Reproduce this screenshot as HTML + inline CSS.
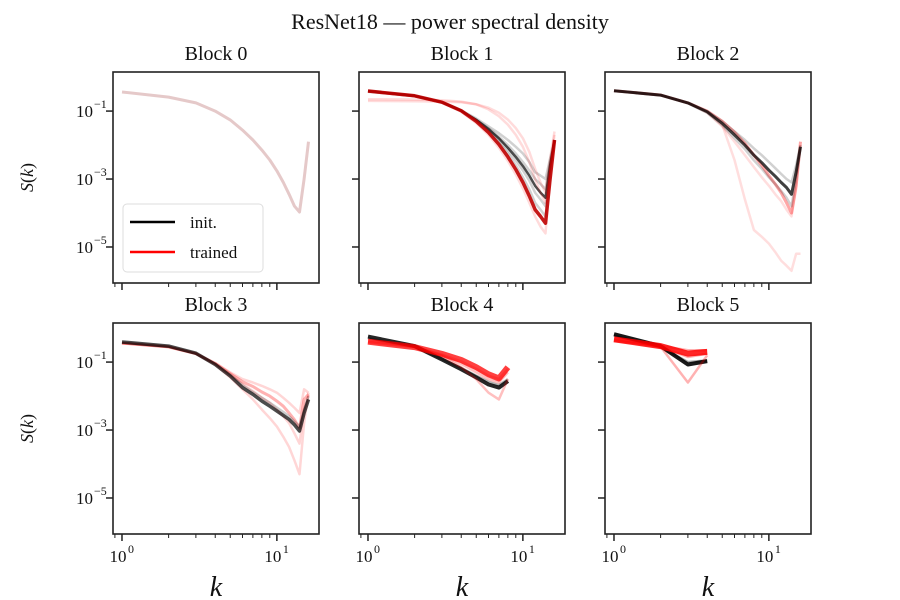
<!DOCTYPE html>
<html><head><meta charset="utf-8"><style>
body{margin:0;background:#fff}
svg{display:block;font-family:"Liberation Serif","DejaVu Serif",serif}
</style></head><body>
<svg id="fig" width="900" height="600" viewBox="0 0 900 600">
<rect width="900" height="600" fill="#fff"/>
<text x="450" y="29" text-anchor="middle" font-size="22" fill="#111">ResNet18 — power spectral density</text>
<g id="panels"></g>
</svg>
<script>
// k values
const k16 = [1,2,3,4,5,6,7,8,9,10,11,12,13,14,15,16];
const k8 = [1,2,3,4,5,6,7,8];
const k4 = [1,2,3,4];
const blockTitles = ["Block 0","Block 1","Block 2","Block 3","Block 4","Block 5"];
const yTickExps = [-1,-3,-5];
const xTickExps = [0,1];
// log10 S(k) series per block
const b0Init = [[-0.44,-0.59,-0.76,-1.0,-1.26,-1.56,-1.85,-2.15,-2.44,-2.76,-3.1,-3.45,-3.8,-3.97,-3.0,-1.9]];
const b0Trained = [[-0.44,-0.59,-0.76,-1.0,-1.26,-1.56,-1.85,-2.15,-2.44,-2.76,-3.1,-3.45,-3.8,-3.97,-3.0,-1.9]];
const b1Init = [
 [-0.41,-0.55,-0.74,-0.99,-1.25,-1.5,-1.75,-2.0,-2.25,-2.5,-2.75,-3.0,-3.15,-3.3,-2.5,-1.85],
 [-0.41,-0.55,-0.74,-0.99,-1.27,-1.56,-1.85,-2.15,-2.45,-2.75,-3.05,-3.4,-3.6,-3.8,-2.7,-1.85],
 [-0.42,-0.56,-0.75,-1.0,-1.3,-1.6,-1.92,-2.25,-2.6,-2.95,-3.3,-3.7,-3.9,-4.1,-2.9,-1.85],
 [-0.43,-0.56,-0.74,-0.98,-1.22,-1.45,-1.65,-1.85,-2.05,-2.25,-2.5,-2.8,-2.9,-3.0,-2.4,-1.85],
 [-0.41,-0.55,-0.74,-0.99,-1.26,-1.53,-1.8,-2.08,-2.35,-2.62,-2.9,-3.2,-3.4,-3.55,-2.6,-1.85]];
const b1Trained = [
 [-0.7,-0.71,-0.72,-0.74,-0.8,-0.9,-1.05,-1.25,-1.5,-1.8,-2.2,-2.7,-3.1,-3.4,-2.4,-1.6],
 [-0.65,-0.66,-0.68,-0.72,-0.8,-0.95,-1.15,-1.4,-1.7,-2.05,-2.5,-3.0,-3.4,-3.7,-2.7,-1.7],
 [-0.42,-0.56,-0.75,-1.02,-1.35,-1.7,-2.08,-2.47,-2.87,-3.28,-3.7,-4.1,-4.4,-4.6,-3.0,-1.9],
 [-0.41,-0.55,-0.74,-0.99,-1.3,-1.63,-1.98,-2.35,-2.72,-3.1,-3.5,-3.9,-4.1,-4.3,-3.0,-1.85]];
const b2Init = [
 [-0.40,-0.53,-0.76,-1.0,-1.3,-1.6,-1.85,-2.1,-2.3,-2.5,-2.68,-2.85,-3.0,-3.1,-2.6,-2.0],
 [-0.41,-0.54,-0.77,-1.05,-1.42,-1.8,-2.12,-2.45,-2.7,-2.95,-3.15,-3.35,-3.55,-3.8,-3.0,-2.1],
 [-0.40,-0.53,-0.76,-1.02,-1.36,-1.7,-2.0,-2.3,-2.52,-2.74,-2.92,-3.1,-3.25,-3.45,-2.8,-2.05]];
const b2Trained = [
 [-0.40,-0.52,-0.76,-1.05,-1.45,-1.9,-2.3,-2.65,-2.95,-3.2,-3.45,-3.65,-3.9,-4.1,-3.3,-2.0],
 [-0.40,-0.53,-0.76,-1.02,-1.4,-2.44,-3.6,-4.5,-4.7,-4.9,-5.15,-5.4,-5.55,-5.7,-5.2,-5.2],
 [-0.40,-0.53,-0.76,-1.0,-1.3,-1.62,-1.95,-2.3,-2.6,-2.9,-3.15,-3.4,-3.7,-4.0,-3.2,-1.9]];
const b3Init = [
 [-0.43,-0.55,-0.75,-1.05,-1.37,-1.68,-1.88,-2.05,-2.2,-2.34,-2.47,-2.6,-2.75,-2.9,-2.4,-2.0],
 [-0.41,-0.53,-0.74,-1.07,-1.41,-1.75,-1.95,-2.15,-2.3,-2.44,-2.57,-2.69,-2.85,-3.03,-2.5,-2.1]];
const b3Trained = [
 [-0.45,-0.56,-0.75,-1.03,-1.3,-1.5,-1.6,-1.7,-1.8,-1.9,-2.05,-2.2,-2.35,-2.5,-1.8,-1.9],
 [-0.45,-0.56,-0.76,-1.08,-1.45,-1.8,-2.1,-2.4,-2.65,-2.9,-3.2,-3.5,-3.9,-4.3,-2.8,-1.9],
 [-0.44,-0.55,-0.75,-1.05,-1.38,-1.65,-1.85,-2.05,-2.2,-2.4,-2.6,-2.8,-3.1,-3.4,-2.4,-2.0],
 [-0.44,-0.55,-0.75,-1.04,-1.34,-1.58,-1.72,-1.88,-2.0,-2.15,-2.3,-2.5,-2.7,-2.95,-2.1,-1.95]];
const b4Init = [
 [-0.30,-0.55,-0.90,-1.17,-1.40,-1.58,-1.68,-1.50],
 [-0.25,-0.53,-0.92,-1.21,-1.45,-1.66,-1.75,-1.56]];
const b4Trained = [
 [-0.42,-0.56,-0.82,-1.15,-1.5,-1.9,-2.1,-1.5],
 [-0.40,-0.55,-0.80,-1.05,-1.3,-1.5,-1.6,-1.3],
 [-0.35,-0.55,-0.78,-0.98,-1.2,-1.4,-1.5,-1.2],
 [-0.40,-0.56,-0.76,-0.94,-1.15,-1.36,-1.48,-1.15]];
const b5Init = [[-0.22,-0.55,-1.0,-0.95],[-0.18,-0.53,-1.07,-0.97]];
const b5Trained = [[-0.35,-0.55,-1.6,-0.8],[-0.30,-0.55,-0.85,-0.75],[-0.38,-0.52,-0.65,-0.65],[-0.33,-0.53,-0.75,-0.70]];

const ks = [k16,k16,k16,k16,k8,k4];
const inits = [b0Init,b1Init,b2Init,b3Init,b4Init,b5Init];
const traineds = [b0Trained,b1Trained,b2Trained,b3Trained,b4Trained,b5Trained];
const styles = [[0.1,0.1,3,0.12,0.12,3],[0.18,0.7,2.5,0.14,0.9,3.5],[0.18,0.75,3,0.13,0.35,3],[0.2,0.7,3.5,0.16,0.3,3],[0.3,0.85,4,0.25,0.75,6],[0.35,0.9,4,0.3,0.85,6]];

const NS="http://www.w3.org/2000/svg";
const root=document.getElementById('panels');
function mk(tag,attrs,parent){const e=document.createElementNS(NS,tag);for(const a in attrs)e.setAttribute(a,attrs[a]);(parent||root).appendChild(e);return e;}
const colX=[113,359,605], rowY=[72,323], W=206, H=211;
const xMin=-0.058, xMax=1.272, yMin=-6.06, yMax=0.15;
for(let b=0;b<6;b++){
  const c=b%3, r=Math.floor(b/3), L=colX[c], T=rowY[r];
  const xs=v=>L+(Math.log10(v)-xMin)/(xMax-xMin)*W;
  const ys=lv=>T+(yMax-lv)/(yMax-yMin)*H;
  const g=mk('g',{});
  
  
  const clipId='clip'+b;
  const cp=mk('clipPath',{id:clipId},g);mk('rect',{x:L,y:T,width:W,height:H},cp);
  const lines=mk('g',{'clip-path':'url(#'+clipId+')'},g);
  const kk=ks[b];
  const st=styles[b];
  const path=arr=>arr.map((v,i)=>(i?'L':'M')+xs(kk[i]).toFixed(1)+' '+ys(v).toFixed(1)).join(' ');
  const nI=inits[b].length, nT=traineds[b].length;
  const drawT=()=>traineds[b].forEach((arr,i)=>{
    const main=i===nT-1;
    const p=mk('path',{d:path(arr),fill:'none',stroke:(b===1&&main)?'#c00000':'#ff0000','stroke-width':main?st[5]:2.5,'stroke-opacity':main?st[4]:st[3],'stroke-linejoin':'round'},lines);
    
    
  });
  const drawI=()=>inits[b].forEach((arr,i)=>{
    const main=i===nI-1;
    const p=mk('path',{d:path(arr),fill:'none',stroke:'#000','stroke-width':main?st[2]:2.5,'stroke-opacity':main?st[1]:st[0],'stroke-linejoin':'round'},lines);
    
    
  });
  if(b>=4||b===1){drawI();drawT();} else {drawT();drawI();}
  mk('rect',{x:L,y:T,width:W,height:H,fill:'none',stroke:'#222','stroke-width':1.6},g);
  const t=mk('text',{x:L+W/2,y:T-12,'text-anchor':'middle','font-size':20,fill:'#111'},g);
  t.textContent=blockTitles[b];
  
  
  yTickExps.forEach(e=>{
    const y=ys(e);
    mk('line',{x1:L-7,x2:L,y1:y,y2:y,stroke:'#222','stroke-width':1.5},g);
    if(c===0){
      const tx=mk('text',{x:L-20,y:y+6,'text-anchor':'end','font-size':17,fill:'#111'},g);
      tx.textContent='10';
      
      
      const sp=mk('text',{x:L-19,y:y-3,'text-anchor':'start','font-size':12,fill:'#111'},g);
      sp.textContent='−'+(-e);
      
      
    }
  });
  for(let d=0;d<=1;d++)for(let m=1;m<=9;m++){
    const v=m*Math.pow(10,d); const lv=Math.log10(v); if(lv<xMin||lv>xMax)continue;
    const x=xs(v);
    mk('line',{x1:x,x2:x,y1:T+H,y2:T+H+(m===1?7:4),stroke:'#222','stroke-width':m===1?1.5:1},g);
  }
  mk('line',{x1:xs(0.9),x2:xs(0.9),y1:T+H,y2:T+H+4,stroke:'#222','stroke-width':1},g);
  if(r===1){
    xTickExps.forEach(e=>{
      const x=xs(Math.pow(10,e));
      const tx=mk('text',{x:x-4,y:T+H+28,'text-anchor':'middle','font-size':17,fill:'#111'},g);
      tx.textContent='10';
      
      
      const sp=mk('text',{x:x+6,y:T+H+19,'font-size':12,fill:'#111'},g);
      sp.textContent=String(e);
      
      
    });
    const xl=mk('text',{x:L+W/2,y:596,'text-anchor':'middle','font-size':28,'font-style':'italic',fill:'#111'},g);
    xl.textContent='k';
    
    
  }
  if(c===0){
    const yl=mk('text',{x:0,y:0,transform:'translate(33,'+(T+H/2)+') rotate(-90)','text-anchor':'middle','font-size':18,fill:'#111'},g);
    yl.innerHTML='<tspan font-style="italic">S</tspan>(<tspan font-style="italic">k</tspan>)';
    
    
  }
}
const lg=mk('g',{});


mk('rect',{x:123,y:204,width:140,height:68,rx:4,fill:'#fff','fill-opacity':0.85,stroke:'#ddd','stroke-width':1},lg);
mk('line',{x1:130,x2:175,y1:222,y2:222,stroke:'#000','stroke-width':2.5},lg);
mk('line',{x1:130,x2:175,y1:252,y2:252,stroke:'#f00','stroke-width':2.5},lg);
const l1=mk('text',{x:190,y:228,'font-size':17,fill:'#111'},lg);l1.textContent='init.';


const l2=mk('text',{x:190,y:258,'font-size':17,fill:'#111'},lg);l2.textContent='trained';


</script>
</body></html>
